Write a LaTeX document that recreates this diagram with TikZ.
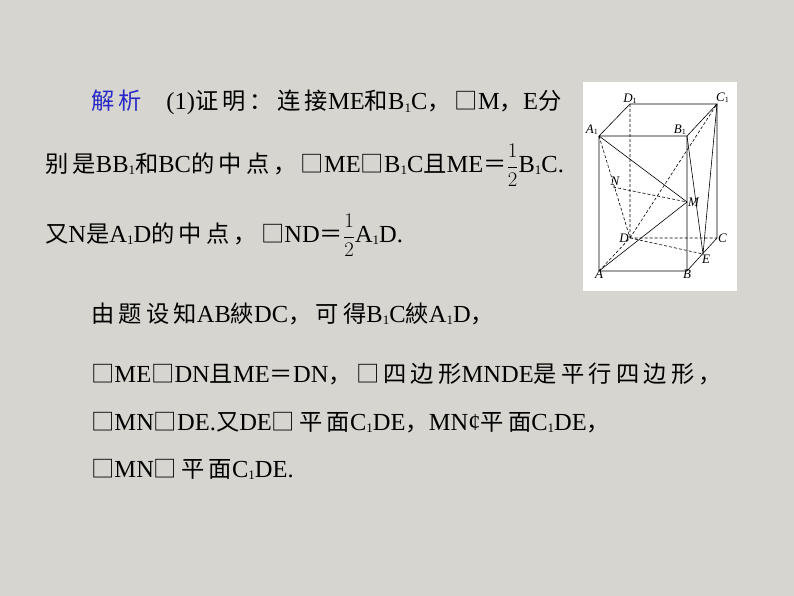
\documentclass[tikz,border=0pt]{standalone}
\usepackage{fontspec}
\setmainfont{Liberation Serif}
\newfontfamily\cjk{Noto Sans CJK SC}[Scale=0.95,LetterSpace=18]
\newcommand{\cj}[1]{{\cjk #1}}
\newcommand{\sub}[1]{\raisebox{-0.25ex}{\fontsize{13}{13}\selectfont #1}}
\newcommand{\half}{{\fontsize{21}{21}\selectfont$\displaystyle\frac{1}{2}$}}
\newcommand{\lsub}[1]{\raisebox{-0.3ex}{\upshape\fontsize{8}{8}\selectfont #1}}
\definecolor{bg}{RGB}{214,213,208}
\definecolor{jx}{RGB}{40,40,200}
\begin{document}
\begin{tikzpicture}[x=1pt,y=-1pt,
  txt/.style={anchor=base west,inner sep=0pt,font=\fontsize{24.5}{24.5}\selectfont},
  ed/.style={line width=0.6pt},
  hid/.style={line width=0.6pt,dash pattern=on 3pt off 2pt},
  lab/.style={font=\itshape\fontsize{13}{13}\selectfont,inner sep=1pt}]
\fill[bg] (0,0) rectangle (794,596);
\useasboundingbox (0,0) rectangle (794,596);
\fill[white] (583,82) rectangle (737,291);
% points
\coordinate (A1) at (599,136); \coordinate (B1) at (687,136);
\coordinate (C1) at (717,104); \coordinate (D1) at (630,104);
\coordinate (A) at (599,271); \coordinate (B) at (687,271);
\coordinate (C) at (717,238); \coordinate (D) at (630,238);
\coordinate (M) at (687,202); \coordinate (N) at (613,187);
\coordinate (E) at (703,254);
\draw[ed] (A1)--(B1)--(C1)--(D1)--cycle (A1)--(A)--(B)--(C)--(C1) (B1)--(B);
\draw[ed] (A1)--(M)--(A) (B1)--(E)--(C1);
\draw[hid] (D1)--(D) (A)--(D)--(C) (D)--(E) (D)--(C1) (A1)--(D) (N)--(M);
\node[lab,anchor=south east] (lA1) at (A1) {A\lsub{1}};
\node[lab,anchor=south] (lD1) at ([yshift=-1]D1) {D\lsub{1}};
\node[lab,anchor=south west] (lC1) at ([xshift=-2]C1) {C\lsub{1}};
\node[lab,anchor=south east] (lB1) at (B1) {B\lsub{1}};
\node[lab,anchor=north] (lA) at ([yshift=2]A) {A};
\node[lab,anchor=north] (lB) at ([yshift=2]B) {B};
\node[lab,anchor=west] (lC) at (C) {C};
\node[lab,anchor=east] (lD) at (D) {D};
\node[lab,anchor=west] (lM) at (M) {M};
\node[lab,anchor=south] (lN) at ([xshift=2]N) {N};
\node[lab,anchor=north west] (lE) at ([xshift=-2]E) {E};
% text
\node[txt] (t1) at (91,110) {\textcolor{jx}{\cj{解析}}\quad (1)\cj{证明：连接}ME\cj{和}B\sub{1}C\cj{，□}M\cj{，}E\cj{分}};
\node[txt] (t2) at (45,172) {\cj{别是}BB\sub{1}\cj{和}BC\cj{的中点，□}ME\cj{□}B\sub{1}C\cj{且}ME\cj{＝}\half B\sub{1}C.};
\node[txt] (t3) at (45,242) {\cj{又}N\cj{是}A\sub{1}D\cj{的中点，□}ND\cj{＝}\half A\sub{1}D.};
\node[txt] (t4) at (91,322) {\cj{由题设知}AB\cj{綊}DC\cj{，可得}B\sub{1}C\cj{綊}A\sub{1}D\cj{，}};
\node[txt] (t5) at (91,382) {\cj{□}ME\cj{□}DN\cj{且}ME\cj{＝}DN\cj{，□四边形}MNDE\cj{是平行四边形，}};
\node[txt] (t6) at (91,430) {\cj{□}MN\cj{□}DE.\cj{又}DE\cj{□平面}C\sub{1}DE\cj{，}MN¢\cj{平面}C\sub{1}DE\cj{，}};
\node[txt] (t7) at (91,477) {\cj{□}MN\cj{□平面}C\sub{1}DE.};
\end{tikzpicture}
\end{document}
